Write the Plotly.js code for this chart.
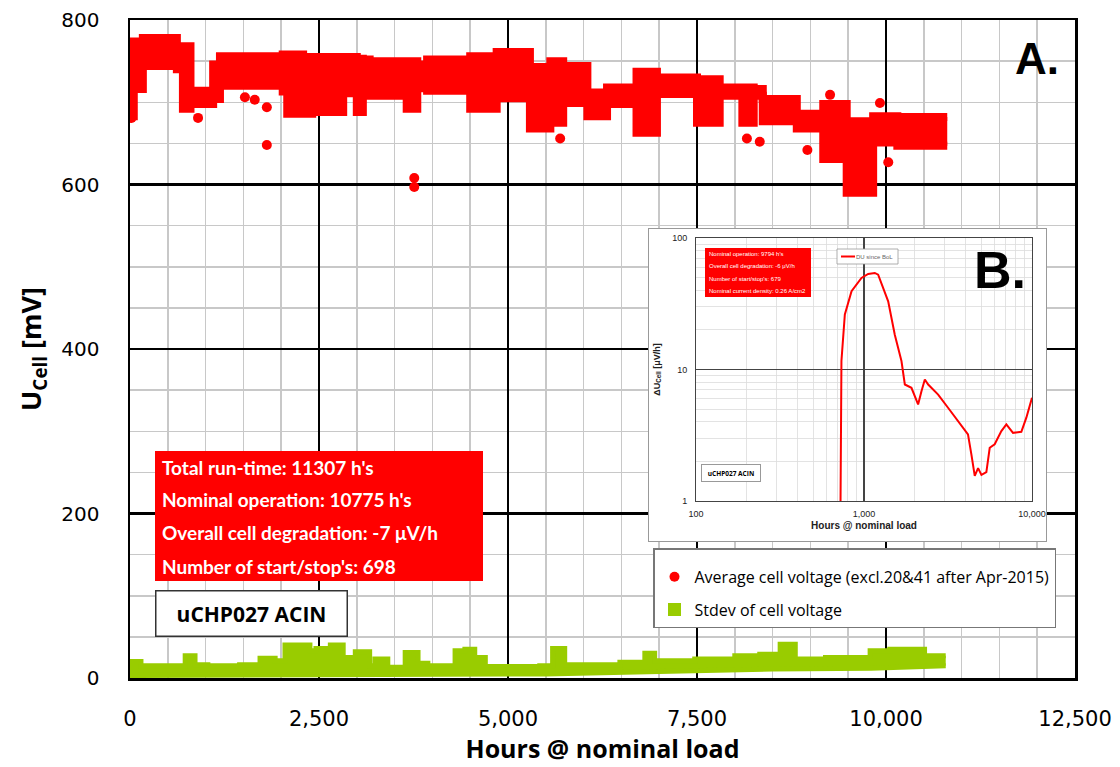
<!DOCTYPE html>
<html>
<head>
<meta charset="utf-8">
<script src="https://cdn.plot.ly/plotly-3.0.1.min.js"></script>
<style>html,body{margin:0;padding:0;background:#fff;}#chart{width:1120px;height:767px;}</style>
</head>
<body>
<div id="chart"></div>
<script>
// ---- Main chart: average cell voltage band (upper / lower envelope) ----
var redHours = [0, 50, 170, 620, 700, 800, 1100, 1190, 2020, 2080, 2210, 2290, 2410, 2510, 2820, 3000, 3080, 3170, 3660, 3800, 3930, 4500, 4850, 5290, 5560, 5730, 6050, 6310, 6700, 6970, 7500, 7800, 8100, 8250, 8370, 8820, 9170, 9480, 9830, 10150, 10810];
var redTop = [734, 774, 778, 768, 768, 714, 746, 756, 758, 758, 758, 755, 755, 755, 755, 753, 752, 750, 750, 746, 752, 756, 761, 743, 750, 744, 712, 718, 737, 730, 728, 718, 718, 716, 704, 686, 698, 677, 683, 682, 682];
var redBottom = [683, 716, 744, 740, 692, 698, 704, 720, 713, 686, 713, 686, 713, 688, 711, 688, 711, 708, 692, 717, 714, 692, 705, 668, 675, 699, 683, 698, 663, 710, 675, 708, 675, 708, 677, 668, 631, 590, 651, 647, 647];
// isolated points
var redOutHours = [20, 20, 900, 1520, 1650, 1810, 1810, 3760, 3760, 5690, 8160, 8330, 8960, 9260, 9920, 10030];
var redOutValues = [693, 681, 681, 706, 703, 694, 648, 608, 597, 656, 656, 652, 642, 709, 699, 627];

// ---- Stdev of cell voltage (upper edge, stepped) and lower edge ----
var stdevHours = [0, 145, 580, 730, 860, 1030, 1450, 1720, 1920, 2050, 2380, 2460, 2650, 2820, 2980, 3170, 3240, 3410, 3640, 3810, 3940, 4300, 4430, 4560, 4700, 5420, 5590, 5750, 6480, 6810, 6940, 7470, 8000, 8330, 8600, 8800, 9200, 9790, 10050, 10510, 10790];
var stdevTop = [20, 15, 15, 27, 16, 15, 16, 24, 21, 40, 33, 36, 40, 25, 32, 15, 23, 13, 31, 18, 15, 33, 35, 25, 14, 15, 36, 16, 19, 30, 21, 23, 27, 29, 41, 23, 25, 33, 35, 27, 27];
var stdevLowHours = [0, 5500, 7000, 8500, 9800, 10790];
var stdevLow = [3, 5, 8, 11, 12, 15];

// ---- Inset B: degradation rate since BoL ----
var insetHours = [725, 727, 734, 769, 843, 966, 1059, 1159, 1214, 1393, 1525, 1671, 1750, 1916, 2099, 2198, 2302, 2410, 2763, 3164, 3628, 3977, 4159, 4357, 4562, 4776, 5000, 5350, 5602, 5995, 6571, 7037, 7707, 8640, 9254, 10000];
var insetRate = [1, 2.86, 11.6, 26.2, 39.4, 49.7, 53.3, 54.2, 52.6, 33.0, 18.4, 11.6, 7.69, 7.26, 5.42, 6.84, 8.39, 7.69, 6.45, 5.12, 4.06, 3.40, 3.21, 2.26, 1.55, 1.78, 1.58, 1.66, 2.54, 2.70, 3.40, 3.82, 3.30, 3.36, 4.30, 6.09];

// ---- Texts ----
var infoLines = ["Total run-time: 11307 h's", "Nominal operation: 10775 h's", "Overall cell degradation: -7 μV/h", "Number of start/stop's: 698"];
var insetInfoLines = ["Nominal operation: 9794 h's", "Overall cell degradation: -6 μV/h", "Number of start/stop's: 679", "Nominal current density: 0.26 A/cm2"];
var seriesNames = ["Average cell voltage (excl.20&41 after Apr-2015)", "Stdev of cell voltage", "DU since BoL"];
var stackName = "uCHP027 ACIN";

var RED = '#ff0000', GREEN = '#99cc00';
var W = 1120, H = 767, L = 130, R = 45, T = 20, B = 89;
var PW = W - L - R, PH = H - T - B;
function px(x) { return (x - L) / PW; }
function py(y) { return (H - B - y) / PH; }

var traces = [
  {x: stdevLowHours, y: stdevLow, mode: 'lines', line: {color: GREEN, width: 5}, showlegend: false, hoverinfo: 'skip'},
  {x: stdevHours, y: stdevTop, mode: 'lines', line: {color: GREEN, width: 5, shape: 'hv'}, fill: 'tonexty', fillcolor: GREEN, showlegend: false, hoverinfo: 'skip'},
  {x: redHours, y: redBottom, mode: 'lines', line: {color: RED, width: 8, shape: 'hv'}, showlegend: false, hoverinfo: 'skip'},
  {x: redHours, y: redTop, mode: 'lines', line: {color: RED, width: 8, shape: 'hv'}, fill: 'tonexty', fillcolor: RED, showlegend: false, hoverinfo: 'skip'},
  {x: redOutHours, y: redOutValues, mode: 'markers', marker: {color: RED, size: 10}, name: seriesNames[0], legendgroup: 'a'},
  {x: [null], y: [null], mode: 'markers', marker: {color: GREEN, size: 13, symbol: 'square'}, name: seriesNames[1], legendgroup: 'b'},
  // frame subplot of the inset (white card)
  {x: [null], y: [null], xaxis: 'x2', yaxis: 'y2', mode: 'markers', showlegend: false, hoverinfo: 'skip'},
  // inset curve
  {x: insetHours, y: insetRate, xaxis: 'x3', yaxis: 'y3', mode: 'lines', line: {color: RED, width: 2}, name: seriesNames[2], showlegend: false}
];

var annotations = [];
infoLines.forEach(function (t, i) {
  var ys = [467, 499, 532, 566];
  annotations.push({xref: 'paper', yref: 'paper', x: px(160), y: py(ys[i]), xanchor: 'left', yanchor: 'middle', showarrow: false, text: '<b>' + t + '</b>', font: {family: 'Lato, sans-serif', size: 19, color: '#fff'}});
});
insetInfoLines.forEach(function (t, i) {
  var ys = [254, 266, 279, 291];
  annotations.push({xref: 'paper', yref: 'paper', x: px(707), y: py(ys[i]), xanchor: 'left', yanchor: 'middle', showarrow: false, text: t, font: {family: 'Liberation Sans, Arial, sans-serif', size: 6, color: '#fff'}});
});
annotations.push({xref: 'paper', yref: 'paper', x: px(895), y: py(256.5), xanchor: 'right', yanchor: 'middle', showarrow: false, text: seriesNames[2], font: {family: 'Liberation Sans, sans-serif', size: 6, color: '#666'}});
annotations.push({xref: 'paper', yref: 'paper', x: px(155), y: py(613), xanchor: 'left', yanchor: 'middle', showarrow: false, text: '<b>' + stackName + '</b>', font: {family: 'Open Sans, sans-serif', size: 21, color: '#000'}, bgcolor: '#fff', bordercolor: '#333', borderwidth: 1.5, borderpad: 5, width: 180, height: 34, align: 'center'});
annotations.push({xref: 'paper', yref: 'paper', x: px(701), y: py(473), xanchor: 'left', yanchor: 'middle', showarrow: false, text: '<b>' + stackName + '</b>', font: {family: 'Open Sans, sans-serif', size: 6.5, color: '#000'}, bgcolor: '#fff', bordercolor: '#999', borderwidth: 1, borderpad: 3, width: 52, height: 10, align: 'center'});
annotations.push({xref: 'paper', yref: 'paper', x: px(1037), y: py(59), xanchor: 'center', yanchor: 'middle', showarrow: false, text: '<b>A.</b>', font: {family: 'Liberation Sans, Arial, sans-serif', size: 44, color: '#000'}});
annotations.push({xref: 'paper', yref: 'paper', x: px(1000), y: py(270), xanchor: 'center', yanchor: 'middle', showarrow: false, text: '<b>B.</b>', font: {family: 'Liberation Sans, Arial, sans-serif', size: 52, color: '#000'}});

var shapes = [
  {type: 'rect', xref: 'paper', yref: 'paper', x0: px(155), x1: px(483), y0: py(581), y1: py(451), fillcolor: RED, line: {width: 0}, layer: 'above'},
  {type: 'rect', xref: 'paper', yref: 'paper', x0: px(705), x1: px(811), y0: py(297), y1: py(248), fillcolor: RED, line: {width: 0}, layer: 'above'},
  // inset legend box + line key
  {type: 'rect', xref: 'paper', yref: 'paper', x0: px(837), x1: px(898), y0: py(264), y1: py(249), fillcolor: '#fff', line: {color: '#999', width: 0.8}, layer: 'above'},
  {type: 'line', xref: 'paper', yref: 'paper', x0: px(841), x1: px(855), y0: py(256.5), y1: py(256.5), line: {color: RED, width: 2}, layer: 'above'}
];

var tickFont = {family: 'DejaVu Sans, sans-serif', color: '#000'};
var layout = {
  width: W, height: H,
  margin: {l: L, r: R, t: T, b: B},
  paper_bgcolor: '#fff', plot_bgcolor: '#fff',
  showlegend: true,
  legend: {x: px(653), y: py(548), xanchor: 'left', yanchor: 'top', bgcolor: '#fff', bordercolor: '#777', borderwidth: 1.5,
           title: {text: ' ', font: {size: 8}},
           font: {family: 'Open Sans, sans-serif', size: 16, color: '#000'}, tracegroupgap: 9, itemwidth: 30},
  xaxis: {range: [0, 12500], dtick: 2500, tick0: 0, tickformat: ',d', showgrid: true, gridcolor: '#000', gridwidth: 2.5,
          minor: {dtick: 500, showgrid: true, gridcolor: '#c8c8c8', gridwidth: 1.5},
          showline: true, mirror: true, linecolor: '#000', linewidth: 2.5, zeroline: false,
          ticks: 'outside', ticklen: 20, tickcolor: 'rgba(0,0,0,0)', tickfont: Object.assign({size: 21}, tickFont),
          title: {text: '<b>Hours @ nominal load</b>', font: {family: 'Open Sans, sans-serif', size: 25, color: '#000'}, standoff: 8}, fixedrange: true},
  yaxis: {range: [0, 800], dtick: 200, tick0: 0, showgrid: true, gridcolor: '#000', gridwidth: 2.5,
          minor: {dtick: 50, showgrid: true, gridcolor: '#c8c8c8', gridwidth: 1.5},
          showline: true, mirror: true, linecolor: '#000', linewidth: 2.5, zeroline: false,
          ticks: 'outside', ticklen: 24, tickcolor: 'rgba(0,0,0,0)', tickfont: Object.assign({size: 20}, tickFont),
          title: {text: '<b>U<sub>Cell</sub> [mV]</b>', font: {family: 'Open Sans, sans-serif', size: 27, color: '#000'}, standoff: 12}, fixedrange: true},
  xaxis2: {domain: [px(649), px(1046)], anchor: 'y2', range: [0, 1], showgrid: false, zeroline: false, showticklabels: false,
           showline: true, mirror: true, linecolor: '#999', linewidth: 1, fixedrange: true},
  yaxis2: {domain: [py(541), py(229)], anchor: 'x2', range: [0, 1], showgrid: false, zeroline: false, showticklabels: false,
           showline: true, mirror: true, linecolor: '#999', linewidth: 1, fixedrange: true},
  xaxis3: {domain: [px(696), px(1032)], anchor: 'y3', type: 'log', range: [2, 4], dtick: 1, tickformat: ',d',
           showgrid: true, gridcolor: '#444', gridwidth: 1.3, minor: {dtick: 'D1', showgrid: true, gridcolor: '#dcdcdc', gridwidth: 0.8},
           showline: true, mirror: true, linecolor: '#444', linewidth: 1, zeroline: false,
           ticks: 'outside', ticklen: 4, tickcolor: 'rgba(0,0,0,0)', tickfont: {family: 'Liberation Sans, sans-serif', size: 9, color: '#222'},
           title: {text: '<b>Hours @ nominal load</b>', font: {family: 'Liberation Sans, sans-serif', size: 10, color: '#222'}, standoff: 4}, fixedrange: true},
  yaxis3: {domain: [py(501), py(238)], anchor: 'x3', type: 'log', range: [0, 2], dtick: 1, tickformat: ',d',
           showgrid: true, gridcolor: '#444', gridwidth: 1.3, minor: {dtick: 'D1', showgrid: true, gridcolor: '#dcdcdc', gridwidth: 0.8},
           showline: true, mirror: true, linecolor: '#444', linewidth: 1, zeroline: false,
           ticks: 'outside', ticklen: 6, tickcolor: 'rgba(0,0,0,0)', tickfont: {family: 'Liberation Sans, sans-serif', size: 9, color: '#222'},
           title: {text: '<b>ΔU<sub>Cell</sub> [μV/h]</b>', font: {family: 'Liberation Sans, sans-serif', size: 9, color: '#222'}, standoff: 10}, fixedrange: true},
  annotations: annotations,
  shapes: shapes
};

Plotly.newPlot('chart', traces, layout, {displayModeBar: false, staticPlot: true});
</script>
</body>
</html>
